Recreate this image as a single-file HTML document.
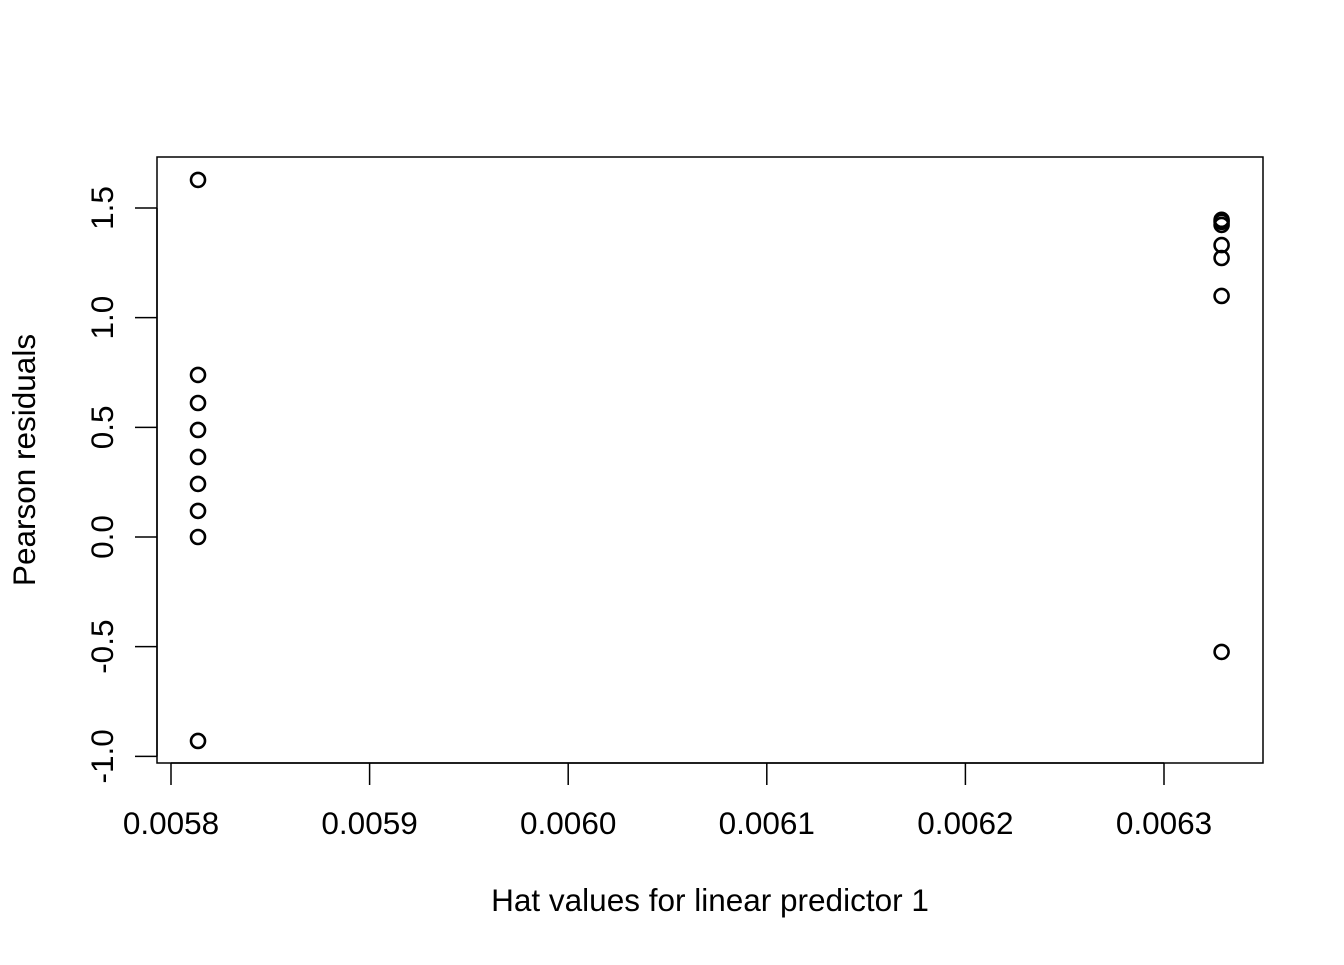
<!DOCTYPE html>
<html><head><meta charset="utf-8"><style>
body{margin:0;background:#fff}
svg text{font-family:"Liberation Sans",Arial,sans-serif;font-size:31.5px;fill:#000}
</style></head><body>
<svg width="1344" height="960" xmlns="http://www.w3.org/2000/svg">
<rect x="157" y="157" width="1106" height="606" fill="none" stroke="#000" stroke-width="1.5"/>
<g id="axes"></g>
<g id="pts"></g>
<text x="710" y="911" text-anchor="middle">Hat values for linear predictor 1</text>
<text transform="translate(35,460) rotate(-90)" text-anchor="middle">Pearson residuals</text>
<script>
const xTicks=[0.0058,0.0059,0.0060,0.0061,0.0062,0.0063];
const xTickLabels=["0.0058","0.0059","0.0060","0.0061","0.0062","0.0063"];
const yTicks=[-1,-0.5,0,0.5,1,1.5];
const yTickLabels=["-1.0","-0.5","0.0","0.5","1.0","1.5"];
const hatValues=[0.0058136,0.0058136,0.0058136,0.0058136,0.0058136,0.0058136,0.0058136,0.0058136,0.0058136,0.006329,0.006329,0.006329,0.006329,0.006329,0.006329,0.006329];
const residuals=[1.628,0.739,0.611,0.488,0.365,0.242,0.119,0.0,-0.930,1.446,1.437,1.423,1.331,1.272,1.099,-0.524];
const sx=v=>171+(v-0.0058)/0.0001*198.6;
const sy=v=>537-v*219.33;
const NS="http://www.w3.org/2000/svg";
const ax=document.getElementById('axes');
function mk(t,a){const e=document.createElementNS(NS,t);for(const k in a)e.setAttribute(k,a[k]);return e;}
let l=mk('line',{x1:sx(xTicks[0]),x2:sx(xTicks[xTicks.length-1]),y1:763,y2:763,stroke:'#000','stroke-width':1.5});


ax.appendChild(l);
xTicks.forEach((v,i)=>{
 const t=mk('line',{x1:sx(v),x2:sx(v),y1:763,y2:785,stroke:'#000','stroke-width':1.5});
 
 
 ax.appendChild(t);
 const tx=mk('text',{x:sx(v),y:834,'text-anchor':'middle'});tx.textContent=xTickLabels[i];
 
 
 ax.appendChild(tx);
});
l=mk('line',{x1:157,x2:157,y1:sy(yTicks[0]),y2:sy(yTicks[yTicks.length-1]),stroke:'#000','stroke-width':1.5});


ax.appendChild(l);
yTicks.forEach((v,i)=>{
 const t=mk('line',{x1:135,x2:157,y1:sy(v),y2:sy(v),stroke:'#000','stroke-width':1.5});
 
 
 ax.appendChild(t);
 const tx=mk('text',{transform:`translate(113,${sy(v)}) rotate(-90)`,'text-anchor':'middle'});tx.textContent=yTickLabels[i];
 
 
 ax.appendChild(tx);
});
const pg=document.getElementById('pts');
hatValues.forEach((h,i)=>{
 const c=mk('circle',{cx:sx(h),cy:sy(residuals[i]),r:7,fill:'none',stroke:'#000','stroke-width':2.6});
 
 
 pg.appendChild(c);
});
</script>
</svg>
</body></html>
